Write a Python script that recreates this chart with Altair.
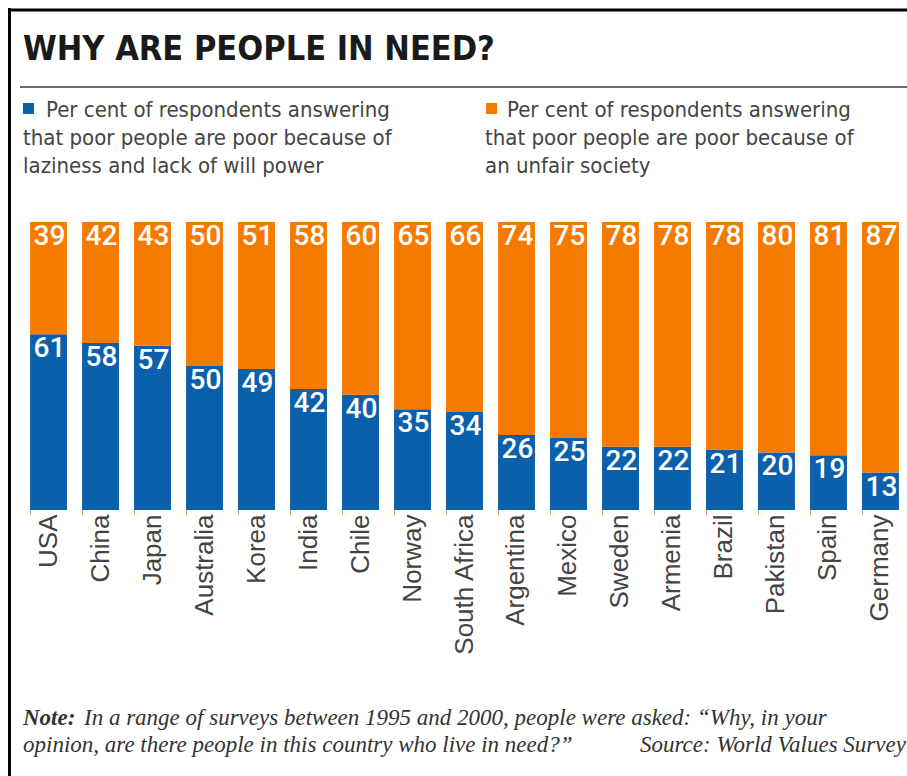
import altair as alt
import pandas as pd

countries = ["USA", "China", "Japan", "Australia", "Korea", "India", "Chile", "Norway",
             "South Africa", "Argentina", "Mexico", "Sweden", "Armenia", "Brazil",
             "Pakistan", "Spain", "Germany"]
lazy = [61, 58, 57, 50, 49, 42, 40, 35, 34, 26, 25, 22, 22, 21, 20, 19, 13]
unfair = [39, 42, 43, 50, 51, 58, 60, 65, 66, 74, 75, 78, 78, 78, 80, 81, 87]
series_keys = ["lazy", "unfair"]
FULL = 100  # bars are drawn as full-height 100% columns

BLUE = "#0a60ab"
ORANGE = "#f57b00"

rows = []
for c, a, b in zip(countries, lazy, unfair):
    rows.append({"country": c, "series": "lazy", "y0": 0, "y1": a, "value": a})
    rows.append({"country": c, "series": "unfair", "y0": a, "y1": FULL, "value": b})
df = pd.DataFrame(rows)

OX, OY = 22, 222

TITLE_FONT = "'DejaVu Sans Condensed', sans-serif"
LEG_FONT = "'DejaVu Sans Condensed', sans-serif"
NOTE_FONT = "Liberation Serif"

x_enc = alt.X("country:N", sort=countries,
              scale=alt.Scale(paddingInner=0.29, paddingOuter=0.155),
              axis=alt.Axis(title=None, labelAngle=270, labelAlign="right",
                            labelBaseline="middle", labelFont="Liberation Sans",
                            labelFontSize=26, labelColor="#444444", labelPadding=0,
                            tickSize=4, tickColor="#c98a4e", tickWidth=1,
                            bandPosition=0, domain=False, grid=False))
y_scale = alt.Scale(domain=[0, 100], nice=False)

bars = alt.Chart(df).mark_bar().encode(
    x=x_enc,
    y=alt.Y("y0:Q", scale=y_scale, axis=None),
    y2="y1:Q",
    color=alt.Color("series:N", scale=alt.Scale(domain=series_keys, range=[BLUE, ORANGE]),
                    legend=None),
)

labels = alt.Chart(df).mark_text(baseline="alphabetic", dy=23, dx=1, color="white",
                                 font="Roboto", fontSize=28, fontWeight=500).encode(
    x=alt.X("country:N", sort=countries),
    y=alt.Y("y1:Q", scale=y_scale),
    text="value:Q",
)


def txt(s, x, y, size, font=LEG_FONT, weight="normal", style="normal",
        color="#444444"):
    return alt.Chart(alt.Data(values=[{}])).mark_text(
        text=s, align="left", baseline="alphabetic", font=font, fontSize=size,
        fontWeight=weight, fontStyle=style, color=color
    ).encode(x=alt.value(x - OX), y=alt.value(y - OY))


def rule(x1, x2, y1, y2, color, width):
    return alt.Chart(alt.Data(values=[{}])).mark_rule(color=color, strokeWidth=width).encode(
        x=alt.value(x1 - OX), x2=alt.value(x2 - OX), y=alt.value(y1 - OY), y2=alt.value(y2 - OY))


def square(x1, x2, y1, y2, color):
    return alt.Chart(alt.Data(values=[{}])).mark_rect(color=color).encode(
        x=alt.value(x1 - OX), x2=alt.value(x2 - OX), y=alt.value(y1 - OY), y2=alt.value(y2 - OY))


deco = [
    rule(9.5, 9.5, 8, 776, "black", 3),
    rule(8, 907, 10, 10, "black", 3),
    txt("WHY ARE PEOPLE IN NEED?", 23, 60, 34, font=TITLE_FONT, weight="bold", color="#1a1a1a"),
    rule(20, 907, 87, 87, "#6a6a6a", 2),
    square(23, 34, 103, 114, BLUE),
    txt("Per cent of respondents answering", 46, 117, 22),
    txt("that poor people are poor because of", 23, 145, 22),
    txt("laziness and lack of will power", 23, 173, 22),
    square(486, 497, 103, 114, ORANGE),
    txt("Per cent of respondents answering", 507, 117, 22),
    txt("that poor people are poor because of", 485, 145, 22),
    txt("an unfair society", 485, 173, 22),
    txt("Note:", 23, 725, 23, font=NOTE_FONT, weight="bold", style="italic",
        color="#333333"),
    txt("In a range of surveys between 1995 and 2000, people were asked: \u201cWhy, in your",
        84, 725, 23, font=NOTE_FONT, style="italic", color="#333333"),
    txt("opinion, are there people in this country who live in need?\u201d",
        23, 752, 23, font=NOTE_FONT, style="italic", color="#333333"),
    txt("Source: World Values Survey", 640, 752, 23, font=NOTE_FONT,
        style="italic", color="#333333"),
]

chart = alt.layer(bars, labels, *deco).properties(
    width=885, height=288,
    autosize=alt.AutoSizeParams(type="none"),
    padding={"left": OX, "top": OY, "right": 0, "bottom": 776 - OY - 288},
    background="white",
).configure_view(stroke=None)

chart.save("out.html", embed_options={"renderer": "svg", "actions": False})
